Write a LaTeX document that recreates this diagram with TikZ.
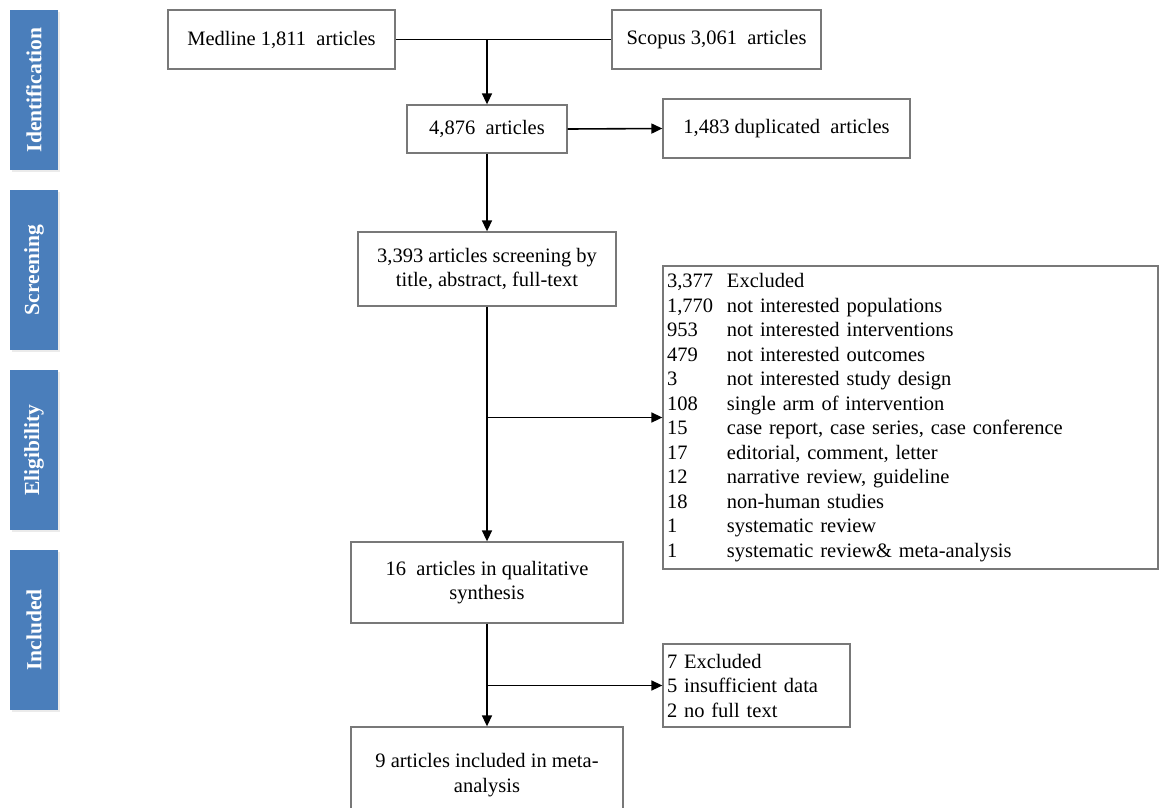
\documentclass[tikz,border=0pt]{standalone}
\usepackage{fontspec}
\setmainfont{Liberation Serif}
\usetikzlibrary{arrows.meta}
\definecolor{phase}{RGB}{74,126,187}
\definecolor{boxline}{RGB}{120,120,120}
\begin{document}
\begin{tikzpicture}[x=1pt,y=-1pt,
  phasebox/.style={draw=none,fill=phase,minimum width=160pt,minimum height=48pt,inner sep=0pt,
    text=white,font=\fontsize{21.5}{24}\selectfont\bfseries,rotate=90},
  flowbox/.style={draw=boxline,line width=1.3pt,fill=white,inner sep=3pt,align=center,
    font=\fontsize{20.5}{24.5}\selectfont},
  conn/.style={line width=1.6pt,draw=black},
  arr/.style={conn,-{Triangle[length=11pt,width=10pt]}}]
\path[use as bounding box] (0,0) rectangle (1160,807);
\clip (0,0) rectangle (1160,807);
\fill[white] (0,0) rectangle (1160,807);
% phase labels
\foreach \y/\t/\n in {90/Identification/pid,270/Screening/psc,450/Eligibility/pel,630/Included/pin}{
  \fill[black!8] (11.5,\y-78.5) rectangle (60,\y+82);
  \node[phasebox] (\n) at (34,\y) {\t};
}
% boxes
\node[flowbox,minimum width=227pt,minimum height=59pt] (med) at (281.5,39.5) {Medline 1,811\ \ articles};
\node[flowbox,minimum width=209pt,minimum height=59pt] (sco) at (716.5,39.5) {Scopus 3,061\ \ articles};
\node[flowbox,minimum width=160pt,minimum height=48pt] (tot) at (487,129) {4,876\ \ articles};
\node[flowbox,minimum width=247pt,minimum height=59pt] (dup) at (786.5,128.5) {1,483 duplicated\ \ articles};
\node[flowbox,minimum width=258pt,minimum height=74pt] (scr) at (487,269) {3,393 articles screening by\\title, abstract, full-text};
\node[flowbox,minimum height=303pt,text width=495pt-8pt,inner sep=4pt,align=left] (exc) at (910.5,417.5)
 {\makebox[60pt][l]{3,377}Excluded\\
  \makebox[60pt][l]{1,770}not interested populations\\
  \makebox[60pt][l]{953}not interested interventions\\
  \makebox[60pt][l]{479}not interested outcomes\\
  \makebox[60pt][l]{3}not interested study design\\
  \makebox[60pt][l]{108}single arm of intervention\\
  \makebox[60pt][l]{15}case report, case series, case conference\\
  \makebox[60pt][l]{17}editorial, comment, letter\\
  \makebox[60pt][l]{12}narrative review, guideline\\
  \makebox[60pt][l]{18}non-human studies\\
  \makebox[60pt][l]{1}systematic review\\
  \makebox[60pt][l]{1}systematic review\& meta-analysis};
\node[flowbox,minimum width=272pt,minimum height=81pt] (qual) at (487,582.5) {16\ \ articles in qualitative\\synthesis};
\node[flowbox,minimum height=83pt,text width=187pt-8pt,inner sep=4pt,align=left] (ex7) at (756.5,685.5)
 {7 Excluded\\5 insufficient data\\2 no full text};
\node[flowbox,minimum width=272pt,minimum height=96pt] (meta) at (487,775) {9 articles included in meta-\\analysis};
% connectors
\draw[conn] (med.east) -- (sco.west);
\draw[arr] (tot.north |- med.east) -- (tot.north);
\draw[arr] (tot.east) -- (dup.west);
\draw[arr] (tot.south) -- (scr.north);
\draw[arr] (scr.south) -- (qual.north);
\draw[arr] (exc.west -| scr.south) -- (exc.west);
\draw[arr] (qual.south) -- (meta.north);
\draw[arr] (ex7.west -| qual.south) -- (ex7.west);
\end{tikzpicture}
\end{document}
